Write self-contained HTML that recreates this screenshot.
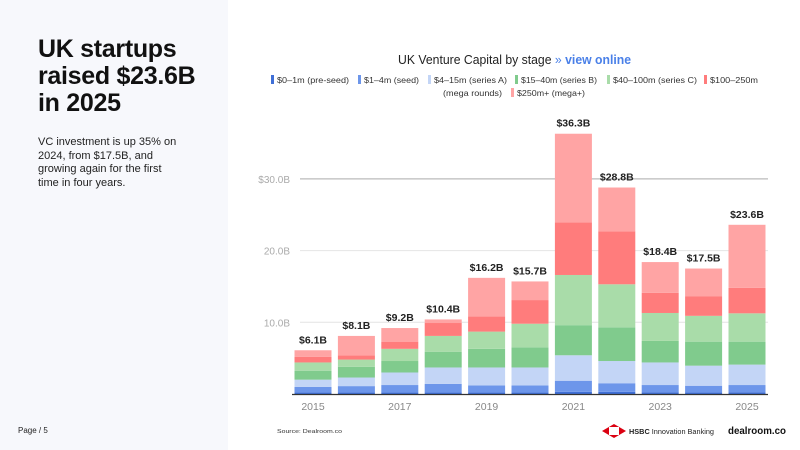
<!DOCTYPE html>
<html><head><meta charset="utf-8"><style>
body{margin:0;width:800px;height:450px;overflow:hidden;font-family:"Liberation Sans",sans-serif;background:#fff;position:relative}
#left{position:absolute;left:0;top:0;width:228px;height:450px;background:#f7f8fc}
h1{position:absolute;left:38px;top:36px;margin:0;font-size:25px;line-height:27px;font-weight:bold;color:#111;letter-spacing:-0.3px}
#desc{position:absolute;left:38px;top:136px;width:180px;font-size:11px;line-height:13.5px;color:#222;white-space:nowrap}
#page{position:absolute;left:18px;top:426px;font-size:8px;color:#222}
</style></head><body>
<div id="left"></div>
<h1>UK startups<br>raised $23.6B<br>in 2025</h1>
<div id="desc">VC investment is up 35% on<br>2024, from $17.5B, and<br>growing again for the first<br>time in four years.</div>
<div id="page">Page / 5</div>
<svg width="800" height="450" style="position:absolute;left:0;top:0" id="chart">
<text x="398" y="64" font-size="13" fill="#222" textLength="233" lengthAdjust="spacingAndGlyphs">UK Venture Capital by stage <tspan fill="#4a80e8">»</tspan> <tspan fill="#4a80e8" font-weight="bold">view online</tspan></text>
<g id="legend"></g><g id="grid"></g><g id="bars"></g>
<text x="277" y="433" font-size="5.5" fill="#333" textLength="65" lengthAdjust="spacingAndGlyphs">Source:      Dealroom.co</text>
<g><polygon points="602,431 614,424 626,431 614,438" fill="#db0011"/><polygon points="609,427 619,427 619,435 609,435" fill="#fff"/><text x="629" y="434" font-size="7" fill="#222" textLength="85" lengthAdjust="spacingAndGlyphs"><tspan font-weight="bold">HSBC</tspan> Innovation Banking</text></g>
<text x="728" y="434" font-size="10" font-weight="bold" fill="#111" textLength="58" lengthAdjust="spacingAndGlyphs">dealroom.co</text>
</svg>
<script>
const years=["2015","2016","2017","2018","2019","2020","2021","2022","2023","2024","2025"];
const totals=["$6.1B","$8.1B","$9.2B","$10.4B","$16.2B","$15.7B","$36.3B","$28.8B","$18.4B","$17.5B","$23.6B"];
const preSeed=[0.2,0.2,0.2,0.2,0.2,0.2,0.3,0.3,0.25,0.2,0.25];
const seed=[0.8,0.9,1.05,1.2,1.0,1.0,1.55,1.2,1.0,0.95,1.0];
const seriesA=[1.0,1.2,1.75,2.3,2.5,2.5,3.55,3.1,3.15,2.8,2.85];
const seriesB=[1.25,1.5,1.6,2.2,2.6,2.8,4.2,4.7,3.0,3.35,3.2];
const seriesC=[1.15,1.0,1.7,2.2,2.4,3.3,7.0,6.0,3.9,3.6,3.95];
const mega=[0.8,0.6,1.0,1.8,2.1,3.3,7.35,7.4,2.8,2.7,3.55];
const megaPlus=[0.9,2.7,1.9,0.5,5.4,2.6,12.35,6.1,4.3,3.9,8.8];
const yTicks=[10,20,30];
const seriesNames=["$0–1m (pre-seed)","$1–4m (seed)","$4–15m (series A)","$15–40m (series B)","$40–100m (series C)","$100–250m","$250m+ (mega+)"];
const series=[preSeed,seed,seriesA,seriesB,seriesC,mega,megaPlus];
const colors=["#3f6fd6","#6d96ea","#c3d5f6","#80cb8d","#a9dca9","#ff7c7c","#ffa4a4"];
const NS="http://www.w3.org/2000/svg";
const base=394,pxPer=7.17,x0=313,step=43.4,bw=37;
const y=v=>base-v*pxPer, xc=i=>x0+i*step;
function mk(t,a,p){const e=document.createElementNS(NS,t);for(const k in a)e.setAttribute(k,a[k]);p.appendChild(e);return e;}
const grid=document.getElementById('grid');
yTicks.forEach(t=>{
  const l=mk('line',{x1:300,x2:768,y1:y(t),y2:y(t),stroke:t===30?'#bbb':'#e4e4e4','stroke-width':t===30?1.2:1},grid);
  
  
  const tx=mk('text',{x:290,y:y(t)+4,'text-anchor':'end','font-size':10,fill:'#aaa'},grid);
  tx.textContent=(t===30?'$':'')+t.toFixed(1)+'B';
  
  
});
const bars=document.getElementById('bars');
years.forEach((yr,i)=>{
  let acc=0;
  series.forEach((s,k)=>{
    const r=mk('rect',{x:xc(i)-bw/2,y:y(acc+s[i]),width:bw,height:s[i]*pxPer,fill:colors[k]},bars);
    
    
    acc+=s[i];
  });
  const t=mk('text',{x:xc(i),y:y(acc)-7,'text-anchor':'middle','font-size':10.5,'font-weight':'bold',fill:'#222'},bars);
  t.textContent=totals[i];
  
  
  if(i%2===0){const a=mk('text',{x:xc(i),y:410,'text-anchor':'middle','font-size':10.5,fill:'#888'},bars);a.textContent=yr;
  
  }
});
const ax=mk('line',{x1:292,x2:768,y1:base+0.5,y2:base+0.5,stroke:'#333','stroke-width':1.2},bars);


const lg=document.getElementById('legend');
const lpos=[[271,82],[358,82],[428,82],[515,82],[607,82],[704,82],[511,95]];
const lw=[72,55,73,76,84,48,68];
seriesNames.forEach((n,k)=>{
  const g=mk('g',{},lg);
  
  
  mk('rect',{x:lpos[k][0],y:lpos[k][1]-7,width:3,height:9,fill:colors[k]},g);
  const t=mk('text',{x:lpos[k][0]+6,y:lpos[k][1]+1,'font-size':8.6,fill:'#333',textLength:lw[k],lengthAdjust:'spacingAndGlyphs'},g);t.textContent=n;
});
const mr=mk('text',{x:443,y:96,'font-size':8.6,fill:'#333',textLength:59,lengthAdjust:'spacingAndGlyphs'},lg);mr.textContent='(mega rounds)';


</script>
</body></html>
